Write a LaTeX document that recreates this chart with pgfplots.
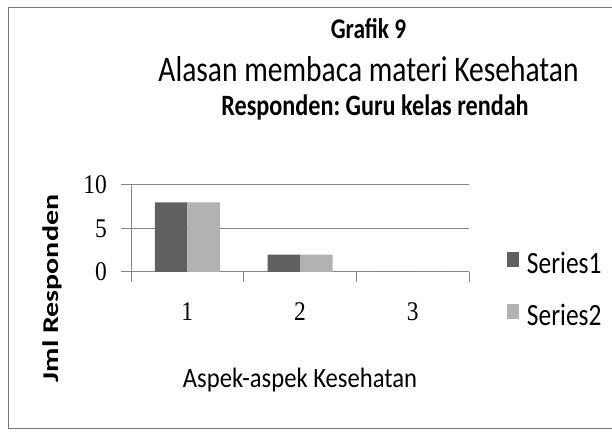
\documentclass[border=0pt]{standalone}
\usepackage{pgfplots}
\pgfplotsset{compat=1.18}
\usepackage{graphicx}
\usepackage{fontspec}
\setmainfont{Carlito}[FakeStretch=0.82]
\newfontfamily\numfont{Liberation Serif}[FakeStretch=0.87]
\newfontfamily\plainfont{Carlito}
\newfontfamily\lblfont{Carlito}[FakeStretch=0.88]
\definecolor{sone}{RGB}{96,96,96}
\definecolor{stwo}{RGB}{178,178,178}
\definecolor{gridc}{RGB}{134,134,134}
\definecolor{framec}{RGB}{120,120,120}
\frenchspacing
\begin{document}
\begin{tikzpicture}
\useasboundingbox (0bp,0bp) rectangle (612bp,432bp);
\fill[white] (0bp,0bp) rectangle (612bp,432bp);
\draw[framec, line width=1bp] (612bp,424bp) -- (8.5bp,424bp) -- (8.5bp,3bp) -- (612bp,3bp);
\node[anchor=base, inner sep=0pt, font=\fontsize{28.5bp}{32bp}\selectfont\bfseries] at (368.5bp,393bp) {Grafik 9};
\node[anchor=base, inner sep=0pt, font=\fontsize{36bp}{40bp}\selectfont] at (368.5bp,350bp) {Alasan membaca materi Kesehatan};
\node[anchor=base, inner sep=0pt, font=\fontsize{29.5bp}{32bp}\selectfont\bfseries] at (375bp,316bp) {Responden: Guru kelas rendah};
\begin{axis}[
  at={(131bp,160bp)}, anchor=south west,
  scale only axis, width=338bp, height=87bp,
  xmin=0.5, xmax=3.5, ymin=0, ymax=10,
  axis x line*=bottom, axis y line*=left,
  axis line style={gridc, line width=1bp},
  ytick={0,5,10},
  ymajorgrids, grid style={gridc, line width=1bp},
  xtick={0.5,1.5,2.5,3.5}, xticklabels={},
  extra x ticks={1,2,3}, extra x tick labels={1,2,3},
  extra x tick style={major tick length=0pt},
  tick align=outside, major tick length=10bp,
  tick style={gridc, line width=1bp},
  /pgf/number format/assume math mode=true,
  yticklabel style={font=\numfont\fontsize{27bp}{30bp}\selectfont, inner sep=0pt, xshift=-14bp},
  xticklabel style={font=\numfont\fontsize{27bp}{30bp}\selectfont, inner sep=0pt, anchor=north, yshift=-30bp},
  xlabel={Aspek-aspek Kesehatan},
  xlabel style={at={(axis description cs:0.5,0)}, anchor=base, yshift=-115bp, inner sep=0pt, font=\lblfont\fontsize{28bp}{32bp}\selectfont},
  ylabel={\scalebox{1}[0.75]{\plainfont\bfseries Jml Responden}},
  ylabel style={at={(axis description cs:-0.2322,-0.1897)}, anchor=center, inner sep=0pt, font=\fontsize{30bp}{34bp}\selectfont},
  ybar=0pt, bar width=32.5bp,
  legend style={at={(axis description cs:1.1124,0.23)}, anchor=north west, draw=none, fill=none,
    inner sep=0pt, outer sep=0pt, column sep=8bp, row sep=30bp,
    nodes={inner sep=0pt, text height=20bp, text depth=0pt, font=\fontsize{31bp}{34bp}\selectfont}},
  legend cell align=left,
]
\addplot[ybar, fill=sone, draw=none, legend image code/.code={\fill[sone] (0bp,-3bp) rectangle (12bp,12bp);}] coordinates {(1,8) (2,2) (3,0)};
\addplot[ybar, fill=stwo, draw=none, legend image code/.code={\fill[stwo] (0bp,-3bp) rectangle (12bp,12bp);}] coordinates {(1,8) (2,2) (3,0)};
\legend{Series1,Series2}
\end{axis}
\end{tikzpicture}
\end{document}
